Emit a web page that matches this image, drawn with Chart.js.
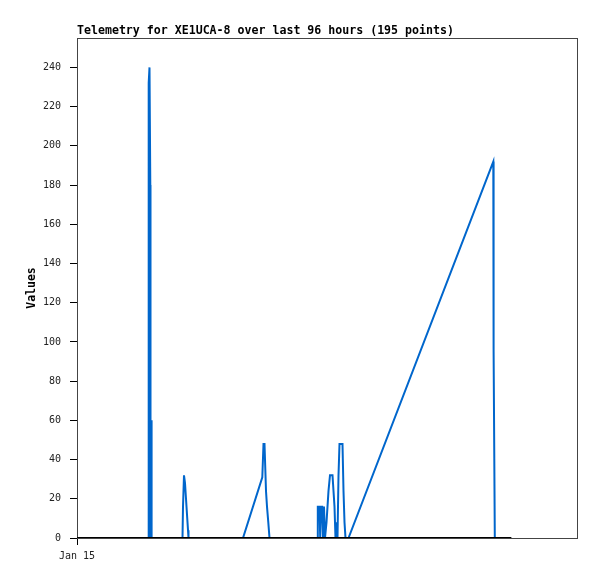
<!DOCTYPE html>
<html>
	<head>
		<meta charset="utf-8">
		<script src="https://cdn.jsdelivr.net/npm/chart.js"></script>
		<title>Telemetry XE1UCA-8</title>
		<style>
			body { margin: 0; background-color: #FFFFFF; }
			.chart { width: 597px; height: 579px; }
		</style>
	</head>
	<body>

		<div class="chart">
			<canvas id="chart1" width="597" height="579"></canvas>
		</div>

<script>

	var titleText = 'Telemetry for XE1UCA-8 over last 96 hours (195 points)'
	var yTitle = 'Values'

	// x axis: hours since the start of the window
	var xTickHours = [0]
	var xTickLabels = ['Jan 15']

	// telemetry channel (blue), hours / values
	var telemetryHours = [
		13.670, 13.766, 13.920, 14.074, 14.112, 14.246, 14.323,
		20.256, 20.352, 20.544, 20.736, 20.928, 21.120, 21.312, 21.408,
		31.872, 35.578, 35.808, 36.000, 36.192, 36.288, 36.480, 36.730, 36.960,
		46.080, 46.234, 46.560, 46.694, 46.848, 47.078, 47.232, 47.424, 47.616,
		47.904, 48.096, 48.288, 48.576, 49.056, 49.248, 49.440, 49.632, 49.824,
		50.016, 50.208, 50.400, 50.976, 51.168, 51.360, 51.552, 52.128,
		79.930, 79.987, 80.218
	]
	var telemetryValues = [
		0, 232, 240, 180, 0, 60, 0,
		0, 16, 32, 28, 20, 12, 4, 0,
		0, 31, 48, 48, 32, 24, 16, 8, 0,
		0, 16, 16, 0, 16, 16, 0, 16, 0,
		8, 16, 24, 32, 32, 24, 16, 0, 8,
		0, 32, 48, 48, 24, 8, 0, 0,
		192, 96, 0
	]

	// second channel, flat at zero (black)
	var baselineHours = [0, 83.4]
	var baselineValues = [0, 0]

	var yMin = 0
	var yMax = 255
	var yStep = 20

	function toPoints(xs, ys) {
		var pts = []
		for (let i = 0; i < xs.length; i++) {
			pts.push({x: xs[i], y: ys[i]})
		}
		return pts
	}

	// frame round the plot + title at the left edge of the plot
	var framePlugin = {
		id: 'frame',
		beforeDatasetsDraw(chart) {
			let a = chart.chartArea
			let ctx = chart.ctx
			ctx.save()
			ctx.strokeStyle = '#444'
			ctx.lineWidth = 1
			ctx.strokeRect(Math.round(a.left) + 0.5, Math.round(a.top) + 0.5, Math.round(a.right - a.left), Math.round(a.bottom - a.top))
			ctx.restore()
		},
		afterDraw(chart) {
			let ctx = chart.ctx
			ctx.save()
			ctx.font = 'bold 11.6px "DejaVu Sans Mono"'
			ctx.fillStyle = '#000'
			ctx.textBaseline = 'alphabetic'
			ctx.fillText(titleText, chart.chartArea.left, 34)
			ctx.restore()
		}
	}

	var chart_data = {
		datasets: [
			{label: 'baseline', data: toPoints(baselineHours, baselineValues), borderColor: '#000000', borderWidth: 2, pointRadius: 0, order: 0},
			{label: 'telemetry', data: toPoints(telemetryHours, telemetryValues), borderColor: '#0066CC', borderWidth: 2, pointRadius: 0, order: 1}
		]
	}

	var ctx = document.getElementById('chart1').getContext('2d')

	var chart1 = new Chart(ctx, {
		type: 'line',
		data: chart_data,
		plugins: [framePlugin],
		options: {
			responsive: false,
			animation: false,
			layout: {padding: {top: 38, right: 20, left: 0, bottom: 0}},
			plugins: {legend: {display: false}, tooltip: {enabled: false}},
			scales: {
				x: {
					type: 'linear',
					min: 0,
					max: 96,
					afterFit: function(scale) { scale.height = 41 },
					afterBuildTicks: function(scale) { scale.ticks = xTickHours.map(v => ({value: v})) },
					grid: {drawOnChartArea: false, drawTicks: true, tickLength: 7, tickColor: '#000'},
					border: {color: '#444', width: 1},
					ticks: {
						autoSkip: false,
						maxRotation: 0,
						padding: 5,
						color: '#222',
						font: {family: '"DejaVu Sans Mono"', size: 10},
						callback: function(v) { let i = xTickHours.indexOf(v); return i >= 0 ? xTickLabels[i] : '' }
					}
				},
				y: {
					min: yMin,
					max: yMax,
					afterFit: function(scale) { scale.width = 77 },
					afterBuildTicks: function(scale) { scale.ticks = scale.ticks.filter(t => t.value % yStep === 0) },
					grid: {drawOnChartArea: false, drawTicks: true, tickLength: 7, tickColor: '#000'},
					border: {color: '#000', width: 1},
					ticks: {
						stepSize: yStep,
						padding: 9,
						color: '#222',
						font: {family: '"DejaVu Sans Mono"', size: 10}
					},
					title: {
						display: true,
						text: yTitle,
						color: '#000',
						padding: {top: 25, bottom: 0},
						font: {family: '"DejaVu Sans Mono"', size: 11.5, weight: 'bold'}
					}
				}
			}
		}
	})

</script>

	</body>
</html>
